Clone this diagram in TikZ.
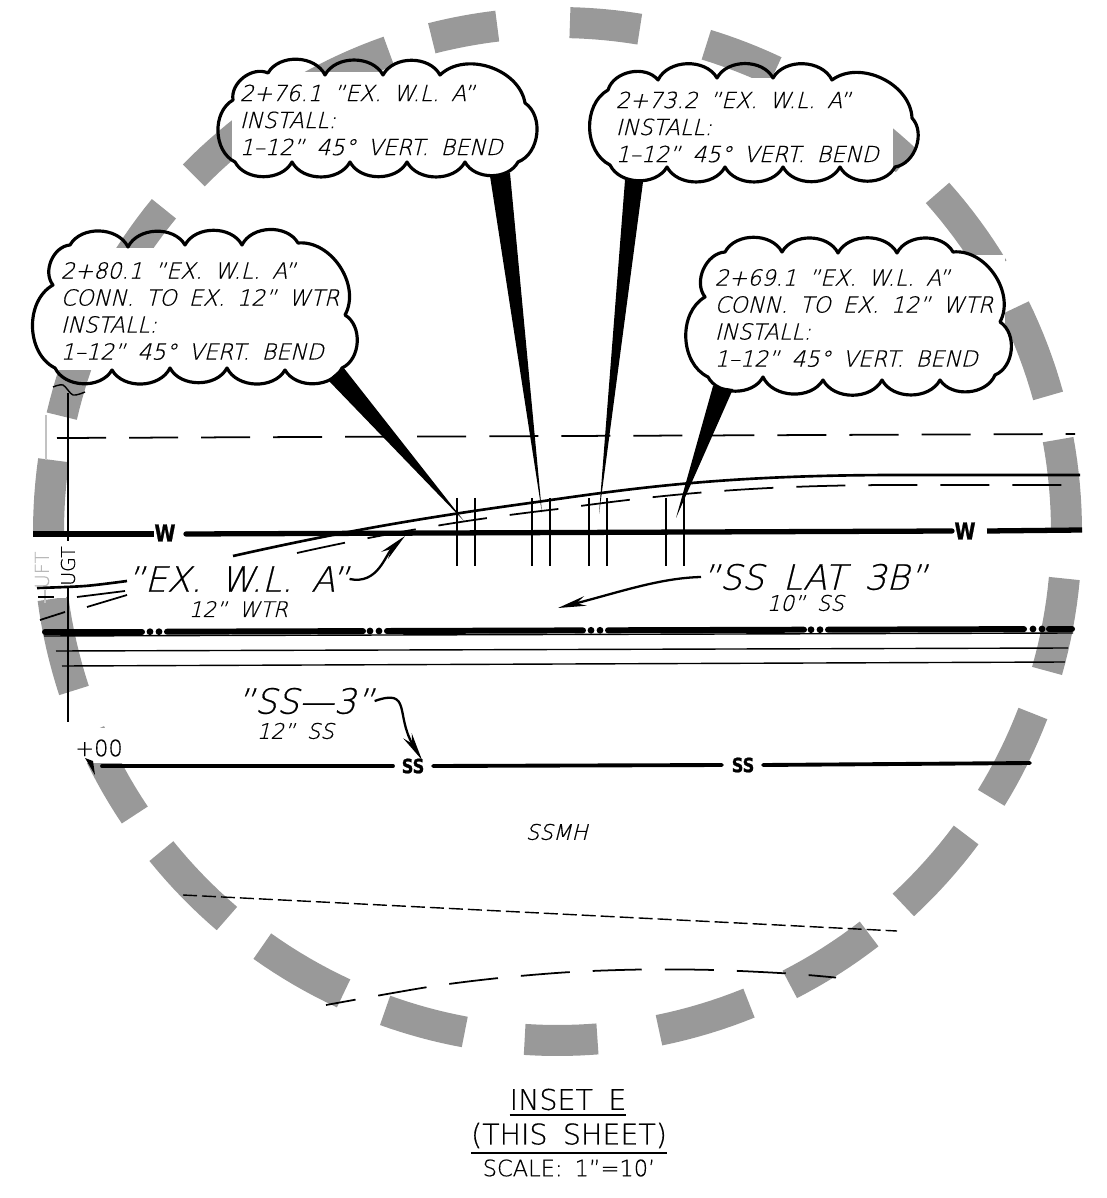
\documentclass[tikz,border=0pt]{standalone}
\usepackage{fontspec}
\setmainfont{DejaVu Sans ExtraLight}
\newfontfamily\cadslant{DejaVu Sans ExtraLight}[FakeSlant=0.25,FakeBold=0.5,WordSpace=1.7]
\newfontfamily\cadplain{DejaVu Sans ExtraLight}[FakeBold=0.5,WordSpace=1.7]
\newfontfamily\cadbold{DejaVu Sans Bold}[FakeStretch=0.82,FakeBold=1]
\usetikzlibrary{arrows.meta}
\definecolor{insetgray}{HTML}{999999}
\tikzset{
  note/.style = {anchor = west, inner sep = 0pt, align = left, font = \cadslant\fontsize{6.3}{7.68}\selectfont},
  bigtag/.style = {anchor = west, inner sep = 0pt, font = \cadslant\fontsize{9.9}{11}\selectfont},
  subtag/.style = {anchor = west, inner sep = 0pt, font = \cadslant\fontsize{6.1}{7}\selectfont},
  title/.style = {inner sep = 0pt, font = \cadplain\fontsize{8.1}{9}\selectfont},
  utility/.style = {inner sep = 0pt, font = \cadbold\fontsize{5.6}{6}\selectfont},
  puff/.style = {bend left = 62},
  cloudline/.style = {line width = 0.9pt, line join = round},
  wipe/.style = {fill = white, draw = none},
  heavy/.style = {line width = 1.5pt, line cap = round},
  pipe/.style = {line width = 0.8pt},
  spur/.style = {line width = 0.5pt},
  fine/.style = {line width = 0.4pt},
  longdash/.style = {line width = 0.5pt, dash pattern = on 0.49cm off 0.23cm},
  tail/.style = {-{Stealth[length = 8pt, width = 2.8pt]}, line width = 0.65pt}
}
\begin{document}
\begin{tikzpicture}[x = 0.01cm, y = -0.01cm]
\useasboundingbox (0,0) rectangle (1106,1198);

% inset circle
\foreach \ang/\half in {10.6/5.3,26.25/5.3,41.9/5.3,57.55/5.3,73.2/5.3,89.6/4.1,105.15/4.65,120.15/5.3,135.8/5.3,151.45/5.3,167.1/5.3,182.75/5.3,198.4/5.3,214.05/5.3,229.7/5.3,245.35/5.3,259.45/3.75,275.35/3.95,291.15/4.15,307.95/5.3,323.6/5.3,339.25/5.3,354.9/5.3}
  \draw[insetgray, line width = 0.31cm] plot[domain = \ang-\half:\ang+\half, samples = 9] ({557.5+509*cos(\x)}, {531.5+509*sin(\x)});
\fill[wipe] (25,534) rectangle (66,598);
\fill[wipe] (1040,532) rectangle (1090,576);
\fill[wipe] (70,728) rectangle (125,763);
\draw[insetgray!60, fine] (46,415) -- (46,460);
\draw[insetgray!60, fine] (45,590) -- (45,603);
\fill[wipe] (40,248) rectangle (345,370);
\fill[wipe] (232,72) rectangle (530,170);
\fill[wipe] (600,78) rectangle (893,175);
\fill[wipe] (700,255) rectangle (1005,385);

% water line
\node[utility, font = \cadbold\fontsize{6.6}{7}\selectfont](wleft) at (165,533){W};
\node[utility, font = \cadbold\fontsize{6.6}{7}\selectfont](wright) at (965,531){W};
\coordinate (wstart) at (33,534);
\coordinate (wend) at (1082,530);
\draw[line width = 1.5pt] (wstart) -- (154,534);
\draw[heavy] (186,534) -- (952,531);
\draw[line width = 1.5pt] (987,531) -- (wend);

% top easement dash, curve of the existing line
\draw[longdash] (57,438) -- (1075,434);
\draw[line width = 0.75pt] (233,556) .. controls (340,532) and (420,518) .. (537,502) .. controls (640,487) and (730,475) .. (900,475) -- (1080,475);
\draw[line width = 0.75pt] plot[smooth] coordinates {(37,588) (85,586) (127,581)};
\draw[longdash] (297,553) .. controls (400,530) and (480,518) .. (558,509) .. controls (660,495) and (750,485) .. (900,485) -- (1080,485);
\draw[spur] (77,597) -- (125,591);
\draw[spur] (87,607) -- (127,595);
\draw[spur] (40,620) -- (65,612);

% vertical pairs
\foreach \px/\qx in {457/475,532/550,589/607,666/684} {
  \draw[pipe] (\px,498) -- (\px,566);
  \draw[pipe] (\qx,498) -- (\qx,566);
}

% sewer lateral and the lines under it
\draw[line width = 1.7pt, line cap = round] (45,632) -- (142,632);
\foreach \sx/\sy in {167/631.7,387/631,608/630.3,828/629.7} {
  \draw[line width = 1.7pt, line cap = round] (\sx,\sy) -- (\sx+196,\sy-0.6);
  \fill (\sx-17,\sy) circle (3.4) (\sx-8,\sy) circle (3.4);
}
\fill (1033,629) circle (3.4) (1042,629) circle (3.4);
\draw[line width = 1.7pt, line cap = round] (1049,629) -- (1072,629);
\draw[fine] (44,636) -- (1073,633);
\draw[fine] (56,651) -- (1068,648);
\draw[fine] (62,666) -- (1065,662);

% utility survey marks at the left edge
\draw[fine] (68,393) -- (68,541);
\draw[fine] (68,587) -- (68,722);
\draw[fine] plot[smooth] coordinates {(53,387) (63,385) (73,395) (85,392)};
\node[inner sep = 0pt, rotate = 90, font = \cadplain\fontsize{5.4}{6}\selectfont](ugt) at (68,566){UGT};
\node[inner sep = 0pt, rotate = 90, text = insetgray!70, font = \cadplain\fontsize{5.5}{6}\selectfont](hoft) at (42,570){UFT};
\draw[line width = 0.5pt] (38,597) -- (54,597);

% sanitary line
\node[utility](ssone) at (413,766){SS};
\node[utility](sstwo) at (743,765){SS};
\draw[line width = 1.1pt, line cap = round] (102,766) -- (393,766);
\draw[line width = 1.1pt, line cap = round] (433,766) -- (722,765);
\draw[line width = 1.1pt, line cap = round] (763,765) -- (1030,763);
\node[inner sep = 0pt, font = \cadplain\fontsize{6.4}{7}\selectfont](station) at (99,748){+00};
\fill (85,758) -- (93,761) -- (95,775) -- cycle;

% lower lines
\draw[fine, dash pattern = on 0.14cm off 0.05cm] (183,895) -- (897,931);
\draw[longdash, dash phase = 0.19cm] plot[smooth] coordinates {(326,1005) (428,987) (499,978) (571,972) (642,969.5) (714,970) (788,973.5) (836,977.6)};

% clouds
\draw[cloudline] (70,245) to[puff] (128,247) to[puff] (185,245) to[puff] (242,245) to[puff] (298,243) to[puff] (345,315) to[puff] (342,368) to[puff] (285,370) to[puff] (227,368) to[puff] (170,368) to[puff] (112,370) to[puff] (55,368) to[puff] (53,285) to[puff] cycle;
\draw[cloudline] (268,73) to[puff] (325,75) to[puff] (383,75) to[puff] (440,75) to[puff] (525,103) to[puff] (518,162) to[puff] (465,162) to[puff] (407,162) to[puff] (350,162) to[puff] (292,162) to[puff] (235,162) to[puff] (233,100) to[puff] cycle;
\draw[cloudline] (658,80) to[puff] (717,78) to[puff] (773,78) to[puff] (832,80) to[puff] (912,118) to[puff] (895,167) to[puff] (840,167) to[puff] (783,167) to[puff] (725,167) to[puff] (667,167) to[puff] (610,165) to[puff] (608,90) to[puff] cycle;
\draw[cloudline] (725,252) to[puff] (782,252) to[puff] (838,253) to[puff] (897,253) to[puff] (953,252) to[puff] (1000,322) to[puff] (995,375) to[puff] (940,380) to[puff] (882,380) to[puff] (823,380) to[puff] (763,377) to[puff] (708,377) to[puff] (705,297) to[puff] cycle;

% note text
\node[note](noteone) at (60,311){2+80.1 ”EX. W.L. A”\\CONN. TO EX. 12” WTR\\INSTALL:\\1–12” 45° VERT. BEND};
\node[note](notetwo) at (239,120){2+76.1 ”EX. W.L. A”\\INSTALL:\\1–12” 45° VERT. BEND};
\node[note](notethree) at (615,127){2+73.2 ”EX. W.L. A”\\INSTALL:\\1–12” 45° VERT. BEND};
\node[note](notefour) at (714,318){2+69.1 ”EX. W.L. A”\\CONN. TO EX. 12” WTR\\INSTALL:\\1–12” 45° VERT. BEND};

% wedges from the notes
\coordinate (tipone) at (464,521);
\coordinate (tiptwo) at (542,513);
\coordinate (tipthree) at (599,514);
\coordinate (tipfour) at (676,518);
\fill (328,380) -- (343,367) -- (tipone) -- cycle;
\fill (490,176) -- (510,173) -- (tiptwo) -- cycle;
\fill (625,180) -- (643,182) -- (tipthree) -- cycle;
\fill (713,386) -- (733,389) -- (tipfour) -- cycle;

% tags
\node[bigtag](exwl) at (126,579){”EX. W.L. A”};
\node[subtag](exwlsub) at (188,609){12” WTR};
\node[bigtag](sslat) at (701,577){”SS LAT 3B”};
\node[subtag](sslatsub) at (766,603){10” SS};
\node[bigtag](ssthree) at (236,701){”SS—3”};
\node[subtag](ssthreesub) at (256,731){12” SS};
\node[subtag](ssmh) at (525,832){SSMH};

\coordinate (exwlend) at (405,536);
\coordinate (sslatend) at (558,608);
\coordinate (ssthreeend) at (422,760);
\draw[tail] (exwl.east) .. controls (378,585) and (385,555) .. (exwlend);
\draw[tail] (sslat.west) .. controls (660,578) and (620,592) .. (sslatend);
\draw[tail] (ssthree.east) .. controls (412,688) and (395,715) .. (ssthreeend);

% title block
\node[title](insetname) at (568,1103){\underline{INSET E}};
\node[title](insetsheet) at (569,1139){\underline{(THIS SHEET)}};
\node[title, font = \cadplain\fontsize{6.4}{7}\selectfont](insetscale) at (569,1168){SCALE: 1”=10’};
\end{tikzpicture}
\end{document}
